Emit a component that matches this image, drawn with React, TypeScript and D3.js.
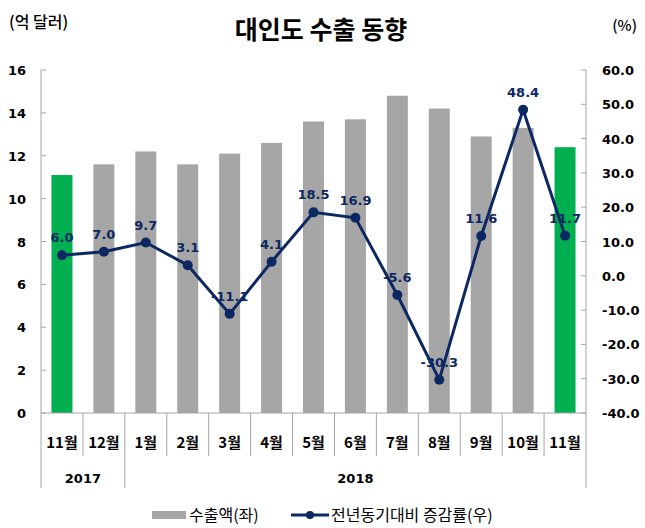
import React from "react";
import * as d3 from "d3";

const categories = ["11월", "12월", "1월", "2월", "3월", "4월", "5월", "6월", "7월", "8월", "9월", "10월", "11월"];
const exports = [11.1, 11.6, 12.2, 11.6, 12.1, 12.6, 13.6, 13.7, 14.8, 14.2, 12.9, 13.3, 12.4];
const growth = [6.0, 7.0, 9.7, 3.1, -11.1, 4.1, 18.5, 16.9, -5.6, -30.3, 11.6, 48.4, 11.7];
const highlighted = [0, 12];
const leftTicks = [0, 2, 4, 6, 8, 10, 12, 14, 16];
const rightTicks = [-40, -30, -20, -10, 0, 10, 20, 30, 40, 50, 60];
const years = [
  { label: "2017", from: 0, to: 2 },
  { label: "2018", from: 2, to: 13 },
];

const W = 645;
const H = 528;
const left = 41;
const right = 586;
const top = 70;
const bottom = 413;

const AXIS = "#a6a6a6";
const NAVY = "#0c2862";
const GRAY = "#a6a6a6";
const GREEN = "#00b050";
const KR = "'Noto Sans CJK KR', 'Noto Sans', sans-serif";
const NUM = "'DejaVu Sans', Verdana, sans-serif";

export default function App() {
  const x = d3.scaleBand<number>().domain(d3.range(categories.length)).range([left, right]).paddingInner(0).paddingOuter(0);
  const yL = d3.scaleLinear().domain([0, 16]).range([bottom, top]);
  const yR = d3.scaleLinear().domain([-40, 60]).range([bottom, top]);
  const bw = 21;
  const cx = (i: number) => (x(i) as number) + x.bandwidth() / 2;
  const line = d3
    .line<number>()
    .x((_, i) => cx(i))
    .y((d) => yR(d));

  const boundary = (i: number) => left + i * x.bandwidth();

  return (
    <svg width={W} height={H} style={{ position: "absolute", left: 0, top: 0, background: "#fff" }}>
      {/* titles */}
      <text x={321} y={39} textAnchor="middle" fontFamily={KR} fontWeight="bold" fontSize={25} fill="#000">
        대인도 수출 동향
      </text>
      <text x={9} y={28} fontFamily={KR} fontSize={16} fontWeight={500} fill="#000">
        (억 달러)
      </text>
      <text x={637} y={31} textAnchor="end" fontFamily={KR} fontSize={15} fontWeight={500} fill="#000">
        (%)
      </text>

      {/* bars */}
      {exports.map((v, i) => (
        <rect
          key={"b" + i}
          x={cx(i) - bw / 2}
          y={yL(v)}
          width={bw}
          height={yL(0) - yL(v)}
          fill={highlighted.includes(i) ? GREEN : GRAY}
        />
      ))}

      {/* axes */}
      <line x1={left} x2={left} y1={top} y2={488} stroke={AXIS} strokeWidth={1} />
      <line x1={right} x2={right} y1={top} y2={488} stroke={AXIS} strokeWidth={1} />
      <line x1={left} x2={right} y1={bottom} y2={bottom} stroke={AXIS} strokeWidth={1} />
      {leftTicks.map((t) => (
        <g key={"lt" + t}>
          <line x1={left} x2={left + 5} y1={yL(t)} y2={yL(t)} stroke={AXIS} />
          <text x={26} y={yL(t) + 5} textAnchor="end" fontFamily={NUM} fontWeight="bold" fontSize={13} fill="#000">
            {t}
          </text>
        </g>
      ))}
      {rightTicks.map((t) => (
        <g key={"rt" + t}>
          <line x1={right - 5} x2={right} y1={yR(t)} y2={yR(t)} stroke={AXIS} />
          <text x={602} y={yR(t) + 5} textAnchor="start" fontFamily={NUM} fontWeight="bold" fontSize={13} fill="#000">
            {t.toFixed(1)}
          </text>
        </g>
      ))}

      {/* category separators */}
      {d3.range(1, categories.length).map((i) => (
        <line
          key={"s" + i}
          x1={boundary(i)}
          x2={boundary(i)}
          y1={bottom}
          y2={years.some((yy) => yy.from === i) ? 488 : 456}
          stroke={AXIS}
        />
      ))}
      {categories.map((c, i) => (
        <text key={"c" + i} x={cx(i)} y={448} textAnchor="middle" fontFamily={KR} fontWeight="bold" fontSize={15} fill="#000">
          {c}
        </text>
      ))}
      {years.map((yy) => (
        <text
          key={yy.label}
          x={(boundary(yy.from) + boundary(yy.to)) / 2}
          y={483}
          textAnchor="middle"
          fontFamily={NUM}
          fontWeight="bold"
          fontSize={13}
          fill="#000"
        >
          {yy.label}
        </text>
      ))}

      {/* line */}
      <path d={line(growth) || ""} fill="none" stroke={NAVY} strokeWidth={3} />
      {growth.map((v, i) => (
        <circle key={"p" + i} cx={cx(i)} cy={yR(v)} r={5} fill={NAVY} />
      ))}
      {growth.map((v, i) => (
        <text
          key={"l" + i}
          x={cx(i)}
          y={yR(v) - 13}
          textAnchor="middle"
          fontFamily={NUM}
          fontWeight="bold"
          fontSize={13}
          fill={NAVY}
        >
          {v.toFixed(1)}
        </text>
      ))}

      {/* legend */}
      <rect x={152} y={511} width={34} height={8} fill={GRAY} />
      <text x={189} y={521} fontFamily={KR} fontSize={16} fill="#000">
        수출액(좌)
      </text>
      <line x1={291} x2={329} y1={515} y2={515} stroke={NAVY} strokeWidth={3} />
      <circle cx={310} cy={515} r={4} fill={NAVY} />
      <text x={331} y={521} fontFamily={KR} fontSize={16} fill="#000">
        전년동기대비 증감률(우)
      </text>
    </svg>
  );
}
